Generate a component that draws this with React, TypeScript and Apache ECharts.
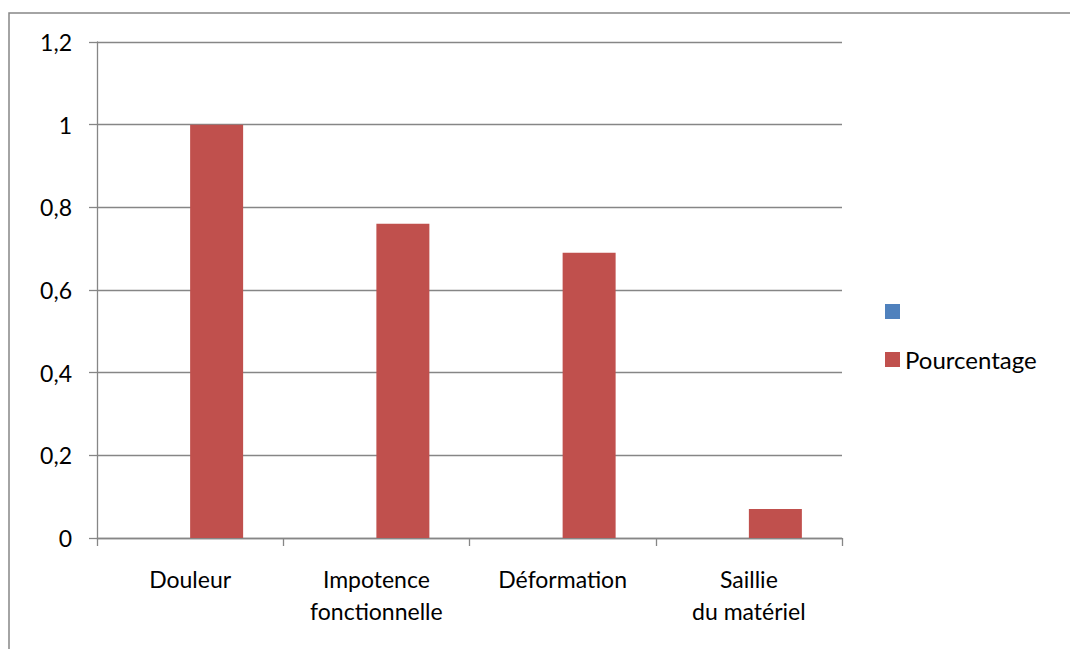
import React, { useEffect, useRef } from "react";
import * as echarts from "echarts";

// Chart data
const categories = ["Douleur", "Impotence\nfonctionnelle", "Déformation", "Saillie\ndu matériel"];
const blankSeriesName = " ";
const blankValues: (number | null)[] = [null, null, null, null];
const percentName = "Pourcentage";
const percentValues = [1, 0.76, 0.69, 0.07];
const yTickLabels = ["0", "0,2", "0,4", "0,6", "0,8", "1", "1,2"];

const FONT = "Lato, 'Open Sans', sans-serif";
const GRAY = "#868686";

export default function App() {
  const ref = useRef<HTMLDivElement>(null);

  useEffect(() => {
    if (!ref.current) return;
    const chart = echarts.init(ref.current, undefined, { renderer: "svg" });
    chart.setOption({
      animation: false,
      backgroundColor: "#ffffff",
      textStyle: { fontFamily: FONT, color: "#000000" },
      graphic: [
        {
          type: "rect",
          shape: { x: 9, y: 13, width: 1200, height: 800 },
          style: { fill: "none", stroke: GRAY, lineWidth: 1.5 },
          silent: true,
        },
      ],
      grid: { left: 97, right: 228, top: 42, bottom: 111, containLabel: false },
      legend: {
        orient: "vertical",
        left: 885,
        top: 297,
        padding: 0,
        itemWidth: 15,
        itemHeight: 15,
        itemGap: 19,
        icon: "rect",
        textStyle: { fontFamily: FONT, fontSize: 24, color: "#000000", lineHeight: 29 },
        data: [blankSeriesName, percentName],
      },
      xAxis: {
        type: "category",
        data: categories,
        axisLine: { lineStyle: { color: GRAY, width: 1.3 } },
        axisTick: { show: true, length: 8, lineStyle: { color: GRAY, width: 1.3 } },
        axisLabel: {
          fontFamily: FONT,
          fontSize: 23,
          lineHeight: 32,
          color: "#000000",
          margin: 25,
          interval: 0,
        },
      },
      yAxis: {
        type: "value",
        min: 0,
        max: 1.2,
        interval: 0.2,
        axisLine: { show: true, lineStyle: { color: GRAY, width: 1.3 } },
        axisTick: { show: true, length: 8, lineStyle: { color: GRAY, width: 1.3 } },
        splitLine: { show: true, lineStyle: { color: GRAY, width: 1.3 } },
        axisLabel: {
          fontFamily: FONT,
          fontSize: 23,
          color: "#000000",
          margin: 25,
          formatter: (_v: number, i: number) => yTickLabels[i],
        },
      },
      series: [
        {
          name: blankSeriesName,
          type: "bar",
          data: blankValues,
          barWidth: 53,
          barGap: "0%",
          itemStyle: { color: "#4F81BD" },
        },
        {
          name: percentName,
          type: "bar",
          data: percentValues,
          barWidth: 53,
          barGap: "0%",
          itemStyle: { color: "#C0504D" },
        },
      ],
    });
    return () => chart.dispose();
  }, []);

  return (
    <div
      ref={ref}
      style={{ position: "fixed", left: 0, top: 0, width: 1070, height: 649, background: "#fff" }}
    />
  );
}
